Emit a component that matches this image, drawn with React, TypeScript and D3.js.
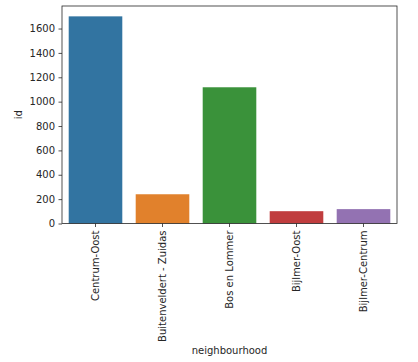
import React, { useEffect, useRef } from "react";
import * as d3 from "d3";

const neighbourhoods = [
  "Centrum-Oost",
  "Buitenveldert - Zuidas",
  "Bos en Lommer",
  "Bijlmer-Oost",
  "Bijlmer-Centrum",
];
const counts = [1700, 240, 1118, 101, 118];
const barColors = ["#3274a1", "#e1812c", "#3a923a", "#c03d3e", "#9372b2"];
const yTicks = [0, 200, 400, 600, 800, 1000, 1200, 1400, 1600];

const App = () => {
  const svgRef = useRef<SVGSVGElement>(null);

  useEffect(() => {
    const svg = d3.select(svgRef.current);
    svg.selectAll("*").remove();

    const w = 418;
    const h = 362;
    const left = 62;
    const right = 397;
    const top = 6;
    const bottom = 223.5;
    const font = "DejaVu Sans, sans-serif";

    svg.attr("width", w).attr("height", h).style("background", "#fff");

    // scales
    const x = d3
      .scaleBand()
      .domain(neighbourhoods)
      .range([left, right])
      .paddingInner(0.2)
      .paddingOuter(0.1);

    const yMax = d3.max(counts) * 1.05;
    const y = d3.scaleLinear().domain([0, yMax]).range([bottom, top]);

    // bars
    svg
      .selectAll(".bar")
      .data(counts)
      .join("rect")
      .attr("x", (d, i) => x(neighbourhoods[i]))
      .attr("y", (d) => y(d))
      .attr("width", x.bandwidth())
      .attr("height", (d) => y(0) - y(d))
      .attr("fill", (d, i) => barColors[i]);

    // axes
    const xAxis = d3.axisBottom(x).tickSize(3.5).tickPadding(3.5);
    const yAxis = d3
      .axisLeft(y)
      .tickValues(yTicks)
      .tickFormat(d3.format("d"))
      .tickSize(3.5)
      .tickPadding(3.5);

    const gx = svg.append("g").attr("transform", `translate(0,${bottom})`).call(xAxis);
    gx.select(".domain").remove();
    gx.selectAll("line").attr("stroke", "#262626").attr("stroke-width", 0.8);
    gx.selectAll("text")
      .attr("transform", "rotate(-90)")
      .attr("x", -7)
      .attr("y", 0)
      .attr("dy", "0.35em")
      .attr("text-anchor", "end")
      .attr("fill", "#262626")
      .style("font-family", font)
      .style("font-size", "10px");

    const gy = svg.append("g").attr("transform", `translate(${left},0)`).call(yAxis);
    gy.select(".domain").remove();
    gy.selectAll("line").attr("stroke", "#262626").attr("stroke-width", 0.8);
    gy.selectAll("text")
      .attr("fill", "#262626")
      .style("font-family", font)
      .style("font-size", "10px");

    // frame
    svg
      .append("rect")
      .attr("x", left)
      .attr("y", top)
      .attr("width", right - left)
      .attr("height", bottom - top)
      .attr("fill", "none")
      .attr("stroke", "#262626")
      .attr("stroke-width", 0.8);

    // labels
    svg
      .append("text")
      .attr("x", (left + right) / 2)
      .attr("y", 354)
      .attr("text-anchor", "middle")
      .attr("fill", "#262626")
      .style("font-family", font)
      .style("font-size", "10px")
      .text("neighbourhood");

    svg
      .append("text")
      .attr("transform", `translate(22,${(top + bottom) / 2}) rotate(-90)`)
      .attr("text-anchor", "middle")
      .attr("fill", "#262626")
      .style("font-family", font)
      .style("font-size", "10px")
      .text("id");
  }, []);

  return (
    <div>
      <svg
        ref={svgRef}
        style={{ display: "block", position: "absolute", left: 0, top: 0 }}
      ></svg>
    </div>
  );
};

export default App;
